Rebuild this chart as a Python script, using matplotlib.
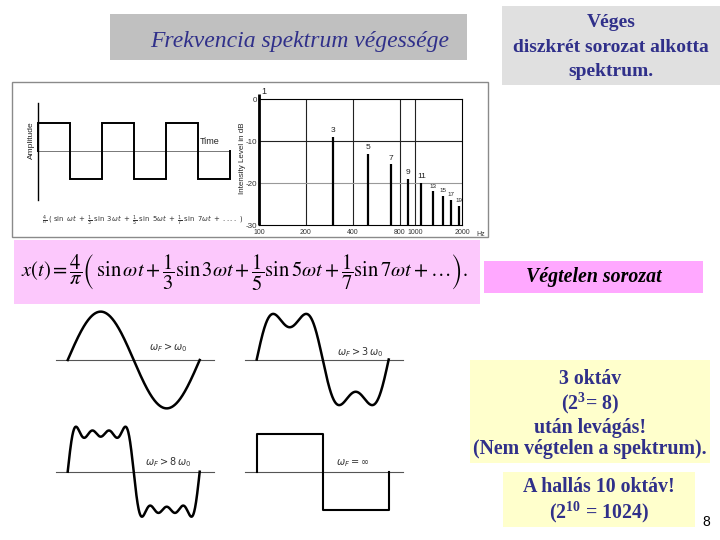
import numpy as np
import matplotlib
matplotlib.use('Agg')
import matplotlib.pyplot as plt
from matplotlib.patches import Rectangle

# ---------------- data ----------------
sq_edges = [0, 1, 2, 3, 4, 5, 6]          # half-periods of the square wave
sq_levels = [1, -1, 1, -1, 1, -1]

fund_freq = 100
fund_db = 0
harm_n = [3, 5, 7, 9, 11, 13, 15, 17, 19]
harm_freq = [300, 500, 700, 900, 1100, 1300, 1500, 1700, 1900]
harm_db = [-9.0, -13.0, -15.5, -19.0, -20.0, -22.0, -23.0, -24.0, -25.4]
grid_freqs = [200, 400, 800, 1000]
x_ticks = [100, 200, 400, 800, 1000, 2000]
x_ticklabels = ['100', '200', '400', '800', '1000', '2000']
y_ticks = [0, -10, -20, -30]
y_ticklabels = ['0', '-10', '-20', '-30']

panel_harmonics = [[1], [1, 3], [1, 3, 5, 7], None]   # None = ideal square
panel_labels = [r'$\omega_F > \omega_0$', r'$\omega_F > 3\,\omega_0$',
                r'$\omega_F > 8\,\omega_0$', r'$\omega_F = \infty$']

NAVY = '#30308a'
SERIF = 'Liberation Serif'
SANS = 'Liberation Sans'

plt.rcParams['mathtext.fontset'] = 'custom'
plt.rcParams['mathtext.rm'] = 'Liberation Serif:bold'
plt.rcParams['mathtext.bf'] = 'Liberation Serif:bold'
plt.rcParams['mathtext.it'] = 'Liberation Serif:italic'

W, H = 720, 540
fig = plt.figure(figsize=(7.2, 5.4), dpi=100)
fig.patch.set_facecolor('white')


def ax_px(x0, y0, x1, y1, **kw):
    return fig.add_axes([x0 / W, 1 - y1 / H, (x1 - x0) / W, (y1 - y0) / H], **kw)


# ---------------- overlay (boxes + texts) ----------------
ov = fig.add_axes([0, 0, 1, 1])
ov.set_xlim(0, W)
ov.set_ylim(H, 0)
ov.axis('off')


def box(x0, y0, x1, y1, fc, ec='none', lw=0):
    ov.add_patch(Rectangle((x0, y0), x1 - x0, y1 - y0, facecolor=fc, edgecolor=ec, lw=lw, zorder=0))


box(110, 14, 467, 60, '#c0c0c0')
ov.text(300, 42, 'Frekvencia spektrum végessége', family=SERIF, style='italic',
        fontsize=17, color=NAVY, ha='center', va='center')

box(502, 6, 720, 85, '#e0e0e0')
ov.text(611, 47, 'Véges\ndiszkrét sorozat alkotta\nspektrum.', family=SERIF, weight='bold',
        fontsize=14, color=NAVY, ha='center', va='center', linespacing=1.55)

box(12, 82, 488, 237, 'white', ec='#8a8a8a', lw=1)

box(14, 240, 480, 304, '#fcc8fc')
ov.text(245, 273,
        r'$x(t)=\dfrac{4}{\pi}\left(\,\sin\omega t+\dfrac{1}{3}\sin 3\omega t+\dfrac{1}{5}\sin 5\omega t'
        r'+\dfrac{1}{7}\sin 7\omega t+\ldots\right).$',
        fontsize=14.8, math_fontfamily='stix', ha='center', va='center', color='black')

box(484, 261, 703, 293, '#ffa8ff')
ov.text(594, 277, 'Végtelen sorozat', family=SERIF, style='italic', weight='bold',
        fontsize=14.3, color='black', ha='center', va='center')

box(470, 360, 710, 463, '#ffffcc')
ov.text(590, 414, '3 oktáv\n(2$^{\\mathbf{3}}$= 8)\nután levágás!\n(Nem végtelen a spektrum).',
        family=SERIF, weight='bold', fontsize=14.3, color=NAVY, ha='center', va='center',
        linespacing=1.1)

box(503, 472, 695, 527, '#ffffcc')
ov.text(599, 501, 'A hallás 10 oktáv!\n(2$^{\\mathbf{10}}$ = 1024)',
        family=SERIF, weight='bold', fontsize=14.3, color=NAVY, ha='center', va='center',
        linespacing=1.1)

ov.text(706, 522, '8', family=SANS, fontsize=10, color='black', ha='center', va='center')

# small labels in the left image
ov.text(31, 140, 'Amplitude', family=SANS, fontsize=6, rotation=90, ha='center', va='center',
        color='#222')
ov.text(210, 141, 'Time', family=SANS, fontsize=6.5, ha='center', va='center', color='#222')
ov.text(42, 221,
        r'$\frac{4}{\pi}\ (\ \sin\ \omega t\ +\ \frac{1}{3}\ \sin\ 3\omega t\ +\ \frac{1}{5}\ \sin\ 5\omega t'
        r'\ +\ \frac{1}{7}\ \sin\ 7\omega t\ +\ ....\ )$',
        fontsize=4.95, math_fontfamily='dejavusans', ha='left', va='center', color='#333')
ov.text(242, 158, 'Intensity Level in dB', family=SANS, fontsize=5.8, rotation=90,
        ha='center', va='center', color='#222')

# waveform labels
label_pos = [(168, 348), (360, 352), (168, 462), (353, 463)]
for (lx, ly), lab in zip(label_pos, panel_labels):
    ov.text(lx, ly, lab, fontsize=7, math_fontfamily='dejavusans', ha='center', va='center',
            color='#333', style='italic')

# ---------------- square wave (top-left) ----------------
sq = ax_px(30, 95, 238, 207)
sq.set_xlim(-0.25, 6.25)
sq.set_ylim(-2.0, 2.0)
sq.axis('off')
sq.patch.set_alpha(0)
xs = np.repeat(sq_edges, 2)
ys = np.concatenate([[0], np.repeat(sq_levels, 2), [0]])
sq.plot([sq_edges[0], sq_edges[-1]], [0, 0], color='#777', lw=0.7)
sq.plot([0, 0], [-1.75, 1.71], color='black', lw=1.0)
sq.plot(xs, ys, color='black', lw=1.4, solid_joinstyle='miter')

# ---------------- spectrum (top-right) ----------------
sp = ax_px(259, 99, 462, 225)
sp.patch.set_alpha(0)
sp.set_xscale('log')
sp.set_xlim(100, 2000)
sp.set_ylim(-30, 0)
for s in sp.spines.values():
    s.set_color('black')
    s.set_linewidth(0.8)
for f in grid_freqs:
    sp.axvline(f, color='#222', lw=0.8)
sp.axhline(-10, color='#222', lw=0.8)
sp.axhline(-20, color='#999', lw=0.8)
sp.vlines([fund_freq], -30, fund_db + 1.2, color='black', lw=2.0, clip_on=False)
sp.vlines(harm_freq, -30, harm_db, color='black', lw=1.6)
sp.text(fund_freq * 1.03, fund_db + 0.6, '1', family=SANS, fontsize=6.5, ha='left', va='bottom',
        color='#222')
for n, f, d in zip(harm_n, harm_freq, harm_db):
    sp.text(f, d + 0.6, str(n), family=SANS, fontsize=6 if n < 13 else 4.5,
            ha='center', va='bottom', color='#222')
sp.set_xticks(x_ticks)
sp.set_xticklabels(x_ticklabels)
sp.xaxis.set_minor_locator(matplotlib.ticker.NullLocator())
sp.set_yticks(y_ticks)
sp.set_yticklabels(y_ticklabels)
sp.tick_params(axis='y', length=0, labelsize=5.8, pad=1, labelcolor='#333')
sp.tick_params(axis='x', length=0, labelsize=5, pad=3, labelcolor='#333')
for lab in sp.get_xticklabels() + sp.get_yticklabels():
    lab.set_family(SANS)
sp.annotate('Hz', xy=(2000, -30), xytext=(10, -6.5), textcoords='offset points',
            fontsize=5, family=SANS, color='#333', ha='left', va='center',
            annotation_clip=False)

# ---------------- waveform panels (bottom-left) ----------------
P = 132.0   # px per period
A = 38.0    # px per unit amplitude
starts = [(67.7, 360), (256.7, 359.5), (67.7, 471.7), (256.7, 472.3)]
t = np.linspace(0, 1, 800)
for (xs0, yb), harms in zip(starts, panel_harmonics):
    a = ax_px(xs0 - 20, yb - 65, xs0 + 155, yb + 65)
    a.set_xlim(-20 / P, 155 / P)
    a.set_ylim(-65 / A, 65 / A)
    a.axis('off')
    a.patch.set_alpha(0)
    a.plot([-0.09, 1.11], [0, 0], color='#555', lw=0.8)
    if harms is None:
        wx = [0, 0, 0.5, 0.5, 1, 1]
        wy = [0, 1, 1, -1, -1, 0]
        a.plot(wx, wy, color='black', lw=1.5)
    else:
        wy = np.zeros_like(t)
        for n in harms:
            wy += 4 / np.pi * np.sin(2 * np.pi * n * t) / n
        a.plot(t, wy, color='black', lw=1.8)

fig.savefig('out.png', dpi=100)
